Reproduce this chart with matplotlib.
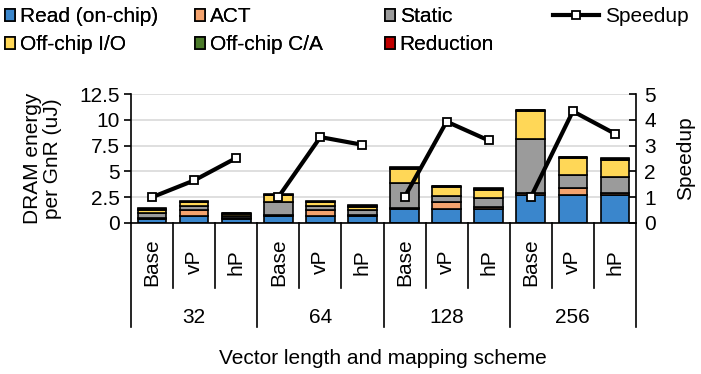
import matplotlib.pyplot as plt
from matplotlib.patches import Patch
from matplotlib.lines import Line2D

plt.rcParams['font.family'] = ['Liberation Sans', 'DejaVu Sans']

groups = ['32', '64', '128', '256']
schemes = ['Base', 'vP', 'hP']

# energy components per bar (uJ), order: 32 Base,vP,hP, 64 ..., 128 ..., 256 ...
read = [0.35, 0.70, 0.35, 0.70, 0.70, 0.70, 1.36, 1.36, 1.36, 2.74, 2.74, 2.74]
act = [0.10, 0.52, 0.10, 0.12, 0.52, 0.12, 0.12, 0.64, 0.19, 0.20, 0.65, 0.16]
static = [0.55, 0.45, 0.25, 1.20, 0.45, 0.45, 2.40, 0.65, 0.87, 5.20, 1.22, 1.56]
io = [0.28, 0.32, 0.17, 0.65, 0.32, 0.32, 1.40, 0.84, 0.81, 2.70, 1.69, 1.67]
ca = [0.08, 0.08, 0.08, 0.08, 0.08, 0.08, 0.08, 0.08, 0.08, 0.08, 0.08, 0.08]
red = [0.06, 0.06, 0.06, 0.06, 0.06, 0.06, 0.06, 0.06, 0.06, 0.06, 0.06, 0.06]
speedup = [1.0, 1.65, 2.52, 1.0, 3.33, 3.03, 1.0, 3.93, 3.2, 1.0, 4.33, 3.46]

comp_names = ['Read (on-chip)', 'ACT', 'Static', 'Off-chip I/O', 'Off-chip C/A', 'Reduction']
comp_colors = ['#3a86cc', '#f4a36e', '#9b9b9b', '#ffd757', '#4b7a2a', '#c00000']

FS = 15

fig = plt.figure(figsize=(7.01, 3.74), dpi=100)
ax = fig.add_axes([131 / 701, 151 / 374, 505 / 701, 129 / 374])

x = list(range(len(read)))
bottom = [0.0] * len(read)
for vals, col in zip([read, act, static, io, ca, red], comp_colors):
    ax.bar(x, vals, 0.68, bottom=bottom, color=col, edgecolor='black', linewidth=1.2, zorder=2)
    bottom = [b + v for b, v in zip(bottom, vals)]

ax.set_xlim(-0.5, 11.5)
ax.set_ylim(0, 12.5)
ax.set_yticks([0, 2.5, 5, 7.5, 10, 12.5])
ax.set_yticklabels(['0', '2.5', '5', '7.5', '10', '12.5'])
ax.yaxis.grid(True, color='#d9d9d9', linewidth=1.2, zorder=0)
ax.set_axisbelow(True)
ax.set_xticks([])
for s in ['top', 'right']:
    ax.spines[s].set_visible(False)
ax.spines['bottom'].set_linewidth(1.2)
ax.spines['left'].set_linewidth(1.2)
ax.tick_params(axis='y', labelsize=FS, length=5, width=1.2, pad=3)
ax.set_ylabel('DRAM energy\nper GnR (uJ)', fontsize=FS, linespacing=1.05)
ax.yaxis.set_label_coords((62 - 131) / 505, 0.5)

ax2 = ax.twinx()
ax2.set_ylim(0, 5)
ax2.set_yticks([0, 1, 2, 3, 4, 5])
ax2.tick_params(axis='y', labelsize=FS, length=5, width=1.2, direction='in', pad=6)
for s in ['top', 'left', 'bottom']:
    ax2.spines[s].set_visible(False)
ax2.spines['right'].set_linewidth(1.2)
ax2.set_ylabel('Speedup', fontsize=FS)
ax2.yaxis.set_label_coords((676 - 131) / 505, 0.5)
for i in range(4):
    idx = slice(3 * i, 3 * i + 3)
    ax2.plot(x[idx], speedup[idx], color='black', linewidth=3, marker='s',
             markersize=6, markerfacecolor='white', markeredgecolor='black',
             markeredgewidth=1.3, zorder=5)

# multi-level category axis
tr = ax.get_xaxis_transform()
for k in range(13):
    ylow = -0.81 if k % 3 == 0 else -0.50
    ax.plot([k - 0.5, k - 0.5], [0, ylow], color='black', linewidth=1.2,
            transform=tr, clip_on=False)
for k in range(12):
    ax.text(k, -0.30, schemes[k % 3], transform=tr, rotation=90, ha='center',
            va='center', fontsize=FS)
for i, g in enumerate(groups):
    ax.text(3 * i + 1, -0.73, g, transform=tr, ha='center', va='center', fontsize=FS)
fig.text(383 / 701, 1 - 359 / 374, 'Vector length and mapping scheme',
         ha='center', va='center', fontsize=FS)

# legend: three columns of two bar entries, plus the speedup line
handles = [Patch(facecolor=c, edgecolor='black', linewidth=1.2) for c in comp_colors]
col_x = [5, 195, 385]
for j in range(3):
    lg = fig.legend([handles[j], handles[j + 3]], [comp_names[j], comp_names[j + 3]],
                    loc='upper left', bbox_to_anchor=(col_x[j] / 701, 1 - 7 / 374),
                    frameon=False, fontsize=FS, handlelength=0.5, handleheight=0.5,
                    handletextpad=0.2, labelspacing=0.45, borderpad=0, borderaxespad=0)
    fig.add_artist(lg)
line_h = Line2D([], [], color='black', linewidth=3, marker='s', markersize=6,
                markerfacecolor='white', markeredgecolor='black', markeredgewidth=1.3)
lg = fig.legend([line_h], ['Speedup'], loc='upper left',
                bbox_to_anchor=(553 / 701, 1 - 7 / 374), frameon=False, fontsize=FS,
                handlelength=2.2, handletextpad=0.3, borderpad=0, borderaxespad=0)

fig.savefig('out.png', dpi=100)
